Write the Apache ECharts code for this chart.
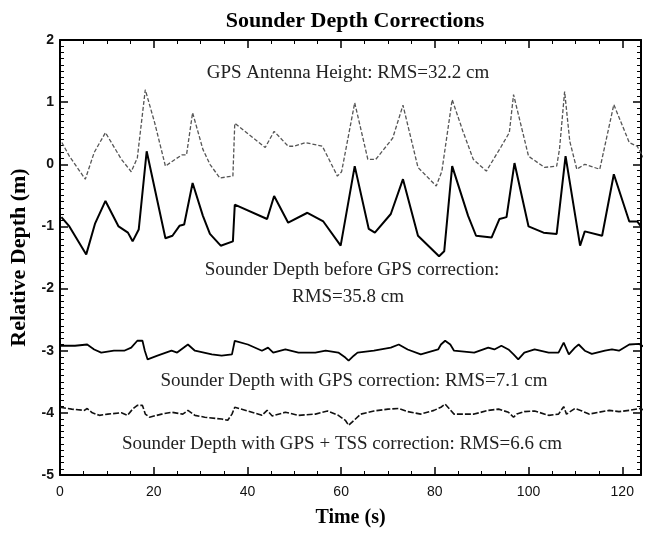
<!DOCTYPE html>
<html>
<head>
<meta charset="utf-8">
<script src="https://cdn.jsdelivr.net/npm/echarts@6/dist/echarts.min.js"></script>
<style>
  html, body { margin: 0; padding: 0; background: #fff; }
  #chart { width: 649px; height: 533px; }
</style>
</head>
<body>
<div id="chart"></div>
<script>
// time (s), relative depth (m) pairs
const gpsHeight = [
  [0.4, 0.35], [2, 0.13], [5.4, -0.24], [7.3, 0.19], [9.7, 0.51], [13.1, 0.08],
  [15.2, -0.12], [16.5, 0.10], [18.2, 1.20], [20.2, 0.67], [22.5, -0.03], [24, 0.05],
  [26, 0.15], [27, 0.15], [28.3, 0.83], [30.5, 0.24], [32, 0.0], [34.1, -0.22],
  [36.9, -0.19], [37.3, 0.66], [43.8, 0.27], [45.7, 0.53], [48.7, 0.29], [50, 0.29],
  [52.4, 0.35], [56, 0.29], [59.2, -0.19], [60.1, -0.12], [62.9, 0.99], [65.7, 0.08],
  [67.4, 0.08], [71, 0.42], [73.2, 0.95], [76.4, -0.05], [80.3, -0.35], [81.5, -0.11],
  [83.7, 1.04], [86, 0.53], [88.2, 0.08], [91, -0.11], [94.2, 0.29], [95.9, 0.51],
  [96.8, 1.12], [100, 0.13], [103.4, -0.05], [106, -0.03], [106.6, 0.24], [107.7, 1.17],
  [108.8, 0.37], [110.3, -0.08], [112, 0.0], [115.2, -0.08], [118.2, 0.96], [121.5, 0.35],
  [123.2, 0.29], [124.7, 0.08]
];

const beforeGps = [
  [0.3, -0.85], [2, -1.0], [5.6, -1.45], [7.5, -0.95], [9.7, -0.59], [12.5, -1.0],
  [14.5, -1.1], [15.5, -1.24], [16.8, -1.05], [18.5, 0.21], [22.5, -1.19], [24, -1.15],
  [25.5, -0.99], [26.5, -0.97], [28.3, -0.30], [30.5, -0.83], [32, -1.12], [34.3, -1.31],
  [36.9, -1.24], [37.3, -0.65], [44.2, -0.88], [45.7, -0.51], [48.7, -0.94], [52.8, -0.78],
  [56.2, -0.92], [59.9, -1.31], [62.9, -0.03], [65.9, -1.04], [67.2, -1.10], [70.6, -0.80],
  [73.2, -0.24], [76.4, -1.15], [80.9, -1.48], [82, -1.40], [83.7, -0.03], [87.1, -0.83],
  [88.8, -1.15], [92.1, -1.18], [93.8, -0.88], [95.3, -0.85], [97, 0.02], [100, -1.0],
  [103.2, -1.10], [106, -1.12], [107.9, 0.13], [111, -1.31], [112, -1.08], [115.7, -1.15],
  [118.2, -0.16], [121.5, -0.92], [123.2, -0.92], [124.7, -1.07]
];

const withGps = [
  [0, -2.92], [3.2, -2.92], [5.8, -2.90], [7.3, -2.98], [8.8, -3.03], [11.5, -3.0],
  [13.7, -3.0], [15.2, -2.95], [16.5, -2.84], [17.6, -2.84], [18.1, -3.0], [18.7, -3.14],
  [20.8, -3.08], [23.8, -3.0], [25, -3.03], [27.3, -2.90], [28.8, -3.0], [32.4, -3.06],
  [34.5, -3.08], [36.7, -3.06], [37.3, -2.84], [40.1, -2.90], [43.1, -3.0], [44.4, -2.95],
  [45.5, -3.03], [48.1, -2.98], [50.9, -3.03], [54.5, -3.03], [56.7, -3.0], [59.4, -3.03],
  [60.9, -3.11], [61.6, -3.16], [62.7, -3.08], [63.5, -3.03], [67, -3.0], [70.6, -2.95],
  [72.3, -2.90], [74.2, -2.98], [77, -3.06], [80.7, -2.98], [81.3, -2.90], [82.2, -2.84],
  [83.3, -2.90], [84.1, -3.0], [88.4, -3.03], [91.4, -2.95], [92.7, -2.98], [94.2, -2.92],
  [95.7, -2.98], [96.8, -3.06], [97.8, -3.14], [99.1, -3.03], [101.3, -2.98], [104.3, -3.03],
  [106.4, -3.03], [107.5, -2.87], [107.7, -2.84], [108.6, -3.06], [109.9, -2.95], [110.7, -2.90],
  [112, -3.0], [113.5, -3.05], [116.3, -3.0], [117.8, -2.98], [119.3, -3.0], [121.5, -2.90],
  [123.6, -2.89], [124.9, -2.95]
];

const withTss = [
  [0, -3.91], [2.5, -3.94], [5.2, -3.96], [5.8, -3.93], [6.9, -4.0], [8.4, -4.04],
  [10.2, -4.02], [13.1, -4.0], [14.4, -4.04], [15.5, -3.94], [16.5, -3.88], [17.6, -3.88],
  [18.2, -4.02], [19.1, -4.07], [21.7, -4.02], [23.8, -3.99], [26.2, -4.02], [27.3, -3.96],
  [28.8, -4.04], [30.9, -4.07], [34.5, -4.10], [35.8, -4.12], [36.7, -4.02], [37.3, -3.91],
  [40.1, -3.97], [43.1, -4.04], [44.2, -3.96], [45.3, -4.05], [48.1, -3.99], [50.9, -4.04],
  [54.5, -4.02], [57.1, -3.97], [59.4, -4.04], [60.9, -4.12], [61.6, -4.20], [62, -4.17],
  [64.2, -4.02], [67, -3.97], [70, -3.94], [72.3, -3.93], [74.2, -3.98], [77, -4.02],
  [79.8, -3.96], [81.3, -3.91], [82.2, -3.86], [84.1, -4.02], [88.4, -4.02], [91.4, -3.96],
  [93.6, -3.94], [95.7, -3.99], [96.8, -4.07], [97.5, -4.02], [99.1, -3.98], [101.3, -3.97],
  [104.3, -4.04], [106.4, -4.02], [107.5, -3.90], [108.1, -4.02], [109.9, -3.93], [111.4, -3.97],
  [112.9, -4.02], [115, -3.99], [117.2, -3.96], [119.3, -3.98], [121.5, -3.96], [123.6, -3.93],
  [124.9, -3.96]
];

const notes = [
  { text: 'GPS Antenna Height: RMS=32.2 cm', x: 348, y: 73 },
  { text: 'Sounder Depth before GPS correction:', x: 352, y: 270 },
  { text: 'RMS=35.8 cm', x: 348, y: 297 },
  { text: 'Sounder Depth with GPS correction: RMS=7.1 cm', x: 354, y: 381 },
  { text: 'Sounder Depth with GPS + TSS correction: RMS=6.6 cm', x: 342, y: 444 }
];

const serif = '"Liberation Serif", "DejaVu Serif", serif';
const sans = '"Liberation Sans", Arial, sans-serif';

const chart = echarts.init(document.getElementById('chart'));

// shared look for all four frame axes
function frameAxis(extra) {
  return Object.assign({
    axisLine: { show: true, onZero: false, lineStyle: { color: '#000', width: 2 } },
    axisTick: { show: true, inside: true, length: 8, lineStyle: { color: '#000', width: 1.5 } },
    splitLine: { show: false },
    axisLabel: { show: false }
  }, extra);
}

const xMinor = { show: true, splitNumber: 4, length: 4, lineStyle: { color: '#000', width: 1 } };
const yMinor = { show: true, splitNumber: 10, length: 4, lineStyle: { color: '#000', width: 1 } };
const xCommon = { type: 'value', min: 0, max: 124, interval: 20, minorTick: xMinor };
const yCommon = { type: 'value', min: -5, max: 2, interval: 1, minorTick: yMinor };

const option = {
  backgroundColor: '#fff',
  animation: false,
  title: {
    text: 'Sounder Depth Corrections',
    left: 350, top: 5, textAlign: 'center',
    textStyle: { fontFamily: serif, fontSize: 22, fontWeight: 'bold', color: '#000' }
  },
  grid: { left: 60, right: 8, top: 40, bottom: 55 },
  xAxis: [
    frameAxis(Object.assign({}, xCommon, {
      position: 'bottom',
      axisLabel: { show: true, fontFamily: sans, fontSize: 14, color: '#111', margin: 10 },
      name: 'Time (s)', nameLocation: 'middle', nameGap: 33,
      nameTextStyle: { fontFamily: serif, fontSize: 20, fontWeight: 'bold', color: '#000' }
    })),
    frameAxis(Object.assign({}, xCommon, { position: 'top' }))
  ],
  yAxis: [
    frameAxis(Object.assign({}, yCommon, {
      position: 'left',
      axisLabel: { show: true, fontFamily: sans, fontSize: 14, fontWeight: 'bold', color: '#111', margin: 6 },
      name: 'Relative Depth (m)', nameLocation: 'middle', nameGap: 30,
      nameTextStyle: { fontFamily: serif, fontSize: 22, fontWeight: 'bold', color: '#000' }
    })),
    frameAxis(Object.assign({}, yCommon, { position: 'right' }))
  ],
  series: [
    {
      name: 'GPS Antenna Height', type: 'line', data: gpsHeight, symbol: 'none',
      lineStyle: { color: '#555', width: 1.3, type: [4, 2] }
    },
    {
      name: 'Before GPS', type: 'line', data: beforeGps, symbol: 'none',
      lineStyle: { color: '#000', width: 2 }
    },
    {
      name: 'With GPS', type: 'line', data: withGps, symbol: 'none',
      lineStyle: { color: '#000', width: 1.8 }
    },
    {
      name: 'With GPS + TSS', type: 'line', data: withTss, symbol: 'none',
      lineStyle: { color: '#111', width: 1.6, type: [6, 2] }
    }
  ],
  graphic: notes.map(n => ({
    type: 'text', x: n.x, y: n.y,
    style: {
      text: n.text, fill: '#222', font: '19px ' + serif,
      textAlign: 'center', textVerticalAlign: 'middle'
    }
  }))
};

chart.setOption(option);
</script>
</body>
</html>
